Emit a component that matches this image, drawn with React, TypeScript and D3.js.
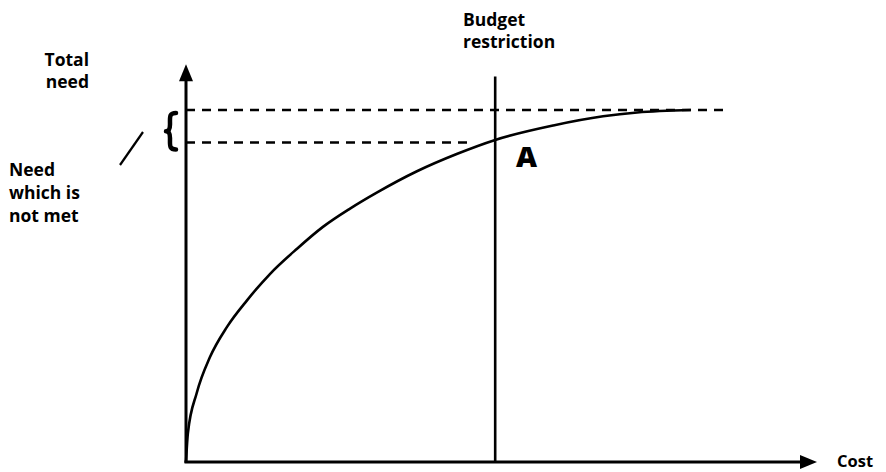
import React from "react";
import * as d3 from "d3";

// ---- data ----
const curveCost = [0, 0.3, 1.7, 3.8, 6.5, 9.7, 13.3, 17.6, 21.7, 26.0, 30.3, 36.6, 42.9, 49.0, 58.2, 66.1, 71.5, 80];
const curveNeed = [0, 8.2, 19.6, 29.8, 38.4, 46.0, 53.4, 60.6, 66.8, 72.0, 76.6, 82.6, 87.5, 91.5, 95.6, 98.2, 99.3, 100];
const budgetCost = 49;
const totalNeed = 100;
const metNeed = 90.8;
const totalNeedLineEnd = 86;
const xAxisMax = 100;
const yAxisMax = 113;
const budgetTop = 109.5;

const yLabel = ["Total", "need"];
const budgetLabel = ["Budget", "restriction"];
const unmetLabel = ["Need", "which is", "not met"];
const xLabel = "Cost";
const pointLabel = "A";

const W = 886;
const H = 472;
const FONT = "'Open Sans', 'DejaVu Sans', sans-serif";

export default function App() {
  const x = d3.scaleLinear().domain([0, xAxisMax]).range([186, 817]);
  const y = d3.scaleLinear().domain([0, totalNeed]).range([462, 110]);

  const pts: [number, number][] = curveCost.map((c, i) => [c, curveNeed[i]]);
  const line = d3
    .line<[number, number]>()
    .x((d) => x(d[0]))
    .y((d) => y(d[1]))
    .curve(d3.curveMonotoneX);

  const x0 = x(0);
  const y0 = y(0);
  const xEnd = x(xAxisMax);
  const yTop = y(yAxisMax);
  const bx = x(budgetCost);
  const metY = y(metNeed);
  const totY = y(totalNeed);

  const braceTop = totY + 3;
  const braceBot = metY + 7;
  const braceMid = (braceTop + braceBot) / 2;
  const bR = x0 - 10;
  const bL = x0 - 20;
  const brace = `M${bR},${braceTop} C${bL + 3},${braceTop} ${bL + 4},${braceTop + 4} ${bL + 4},${braceMid - 7}
    C${bL + 4},${braceMid - 2} ${bL + 3},${braceMid} ${bL},${braceMid}
    C${bL + 3},${braceMid} ${bL + 4},${braceMid + 2} ${bL + 4},${braceMid + 7}
    C${bL + 4},${braceBot - 4} ${bL + 3},${braceBot} ${bR},${braceBot}`;

  return (
    <svg
      width={W}
      height={H}
      style={{ position: "absolute", left: 0, top: 0, background: "#fff" }}
      fontFamily={FONT}
      fontWeight="bold"
    >
      <rect x={0} y={0} width={W} height={H} fill="#fff" />
      {/* dashed reference lines */}
      <line x1={x0} x2={x(totalNeedLineEnd)} y1={totY} y2={totY} stroke="#000" strokeWidth={2.5} strokeDasharray="9,7" />
      <line x1={x0} x2={x(budgetCost) - 24} y1={metY} y2={metY} stroke="#000" strokeWidth={2.5} strokeDasharray="9,7" />

      {/* curve */}
      <path d={line(pts) || ""} fill="none" stroke="#000" strokeWidth={2.6} />

      {/* budget restriction */}
      <line x1={bx} x2={bx} y1={y(budgetTop)} y2={y0} stroke="#000" strokeWidth={2.6} />

      {/* axes */}
      <line x1={x0} x2={x0} y1={y0 + 1} y2={yTop + 14} stroke="#000" strokeWidth={3} />
      <path d={`M${x0},${yTop} L${x0 - 7},${yTop + 17} L${x0 + 7},${yTop + 17} Z`} fill="#000" />
      <line x1={x0 - 1.5} x2={xEnd - 14} y1={y0} y2={y0} stroke="#000" strokeWidth={3} />
      <path d={`M${xEnd},${y0} L${xEnd - 17},${y0 - 7} L${xEnd - 17},${y0 + 7} Z`} fill="#000" />

      {/* brace and pointer */}
      <path d={brace} fill="none" stroke="#000" strokeWidth={4.5} strokeLinecap="round" strokeLinejoin="round" />
      <line x1={143} y1={132} x2={120} y2={165} stroke="#000" strokeWidth={2.2} />

      {/* labels */}
      <text x={89} textAnchor="end" fontSize={17.5}>
        {yLabel.map((t, i) => (
          <tspan key={t} x={89} y={66 + i * 22}>{t}</tspan>
        ))}
      </text>
      <text fontSize={17.5}>
        {budgetLabel.map((t, i) => (
          <tspan key={t} x={463} y={26 + i * 22}>{t}</tspan>
        ))}
      </text>
      <text fontSize={17.5}>
        {unmetLabel.map((t, i) => (
          <tspan key={t} x={9} y={176 + i * 23}>{t}</tspan>
        ))}
      </text>
      <text x={837} y={467} fontSize={16.5}>{xLabel}</text>
      <text x={516} y={167} fontSize={29} fontWeight={900}>{pointLabel}</text>
    </svg>
  );
}
